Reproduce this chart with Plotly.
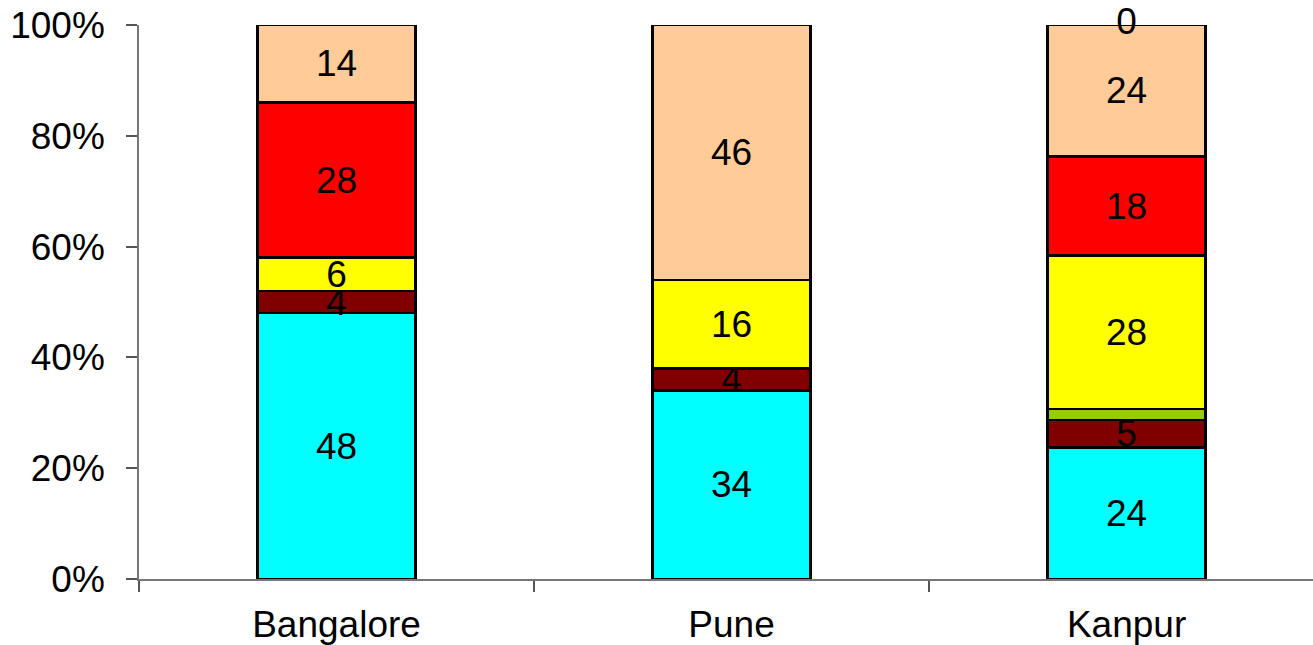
import plotly.graph_objects as go

# Cities on the category axis
cities = ["Bangalore", "Pune", "Kanpur"]

# Stacked segment values per city (bottom to top), None where a segment is absent
cyan_vals = [48, 34, 24]
maroon_vals = [4, 4, 5]
green_vals = [None, None, 2]
yellow_vals = [6, 16, 28]
red_vals = [28, None, 18]
peach_vals = [14, 46, 24]
top_vals = [None, None, 0]

# Which segments carry a printed value
cyan_show = [True, True, True]
maroon_show = [True, True, True]
green_show = [False, False, False]
yellow_show = [True, True, True]
red_show = [True, False, True]
peach_show = [True, True, True]

y_ticks = [0, 20, 40, 60, 80, 100]
y_tick_labels = ["0%", "20%", "40%", "60%", "80%", "100%"]

FONT = "Liberation Sans, Arial, sans-serif"
FS = 37

series = [
    ("Segment 1", cyan_vals, cyan_show, "#00FFFF"),
    ("Segment 2", maroon_vals, maroon_show, "#800000"),
    ("Segment 3", green_vals, green_show, "#99CC00"),
    ("Segment 4", yellow_vals, yellow_show, "#FFFF00"),
    ("Segment 5", red_vals, red_show, "#FF0000"),
    ("Segment 6", peach_vals, peach_show, "#FFCC99"),
]

fig = go.Figure()
for name, vals, show, color in series:
    labels = [str(v) if (s and v is not None) else "" for v, s in zip(vals, show)]
    fig.add_trace(go.Bar(
        x=cities, y=vals, name=name,
        marker=dict(color=color, line=dict(color="black", width=2.5)),
        text=labels, texttemplate="%{text}",
        textposition="inside", insidetextanchor="middle", textangle=0,
        textfont=dict(family=FONT, size=FS, color="black"),
        insidetextfont=dict(family=FONT, size=FS, color="black"),
        hoverinfo="skip",
    ))

# Zero-valued top segment: its label sits at the top of the stack
top_x, top_y, top_text = [], [], []
for i, city in enumerate(cities):
    if top_vals[i] is None:
        continue
    total = sum((s[1][i] or 0) for s in series) + top_vals[i]
    cum = sum((s[1][i] or 0) for s in series) + top_vals[i] / 2
    top_x.append(city)
    top_y.append(cum / total * 100)
    top_text.append(str(top_vals[i]))

fig.add_trace(go.Scatter(
    x=top_x, y=top_y, mode="text", text=top_text,
    textposition="middle center",
    textfont=dict(family=FONT, size=FS, color="black"),
    cliponaxis=False, showlegend=False, hoverinfo="skip",
))

fig.update_layout(
    width=1313, height=645,
    barmode="stack", barnorm="percent", bargap=0.6,
    showlegend=False,
    plot_bgcolor="white", paper_bgcolor="white",
    margin=dict(l=139, r=0, t=25, b=64),
    uniformtext=dict(minsize=FS, mode="show"),
    font=dict(family=FONT, size=FS, color="black"),
)
fig.update_xaxes(
    type="category", range=[-0.5, 2.472],
    showline=True, linecolor="#777777", linewidth=1.5,
    ticks="outside", tickson="boundaries", ticklen=11,
    tickcolor="#555555", tickwidth=1.5, ticklabelstandoff=12,
    tickfont=dict(family=FONT, size=FS, color="black"),
    showgrid=False, zeroline=False,
)
fig.update_yaxes(
    range=[0, 100], tickvals=y_ticks, ticktext=y_tick_labels,
    showline=True, linecolor="#777777", linewidth=1.5,
    ticks="outside", ticklen=11, tickcolor="#555555", tickwidth=1.5,
    ticklabelstandoff=14,
    tickfont=dict(family=FONT, size=FS, color="black"),
    showgrid=False, zeroline=False,
)

fig.write_html("out.html")
